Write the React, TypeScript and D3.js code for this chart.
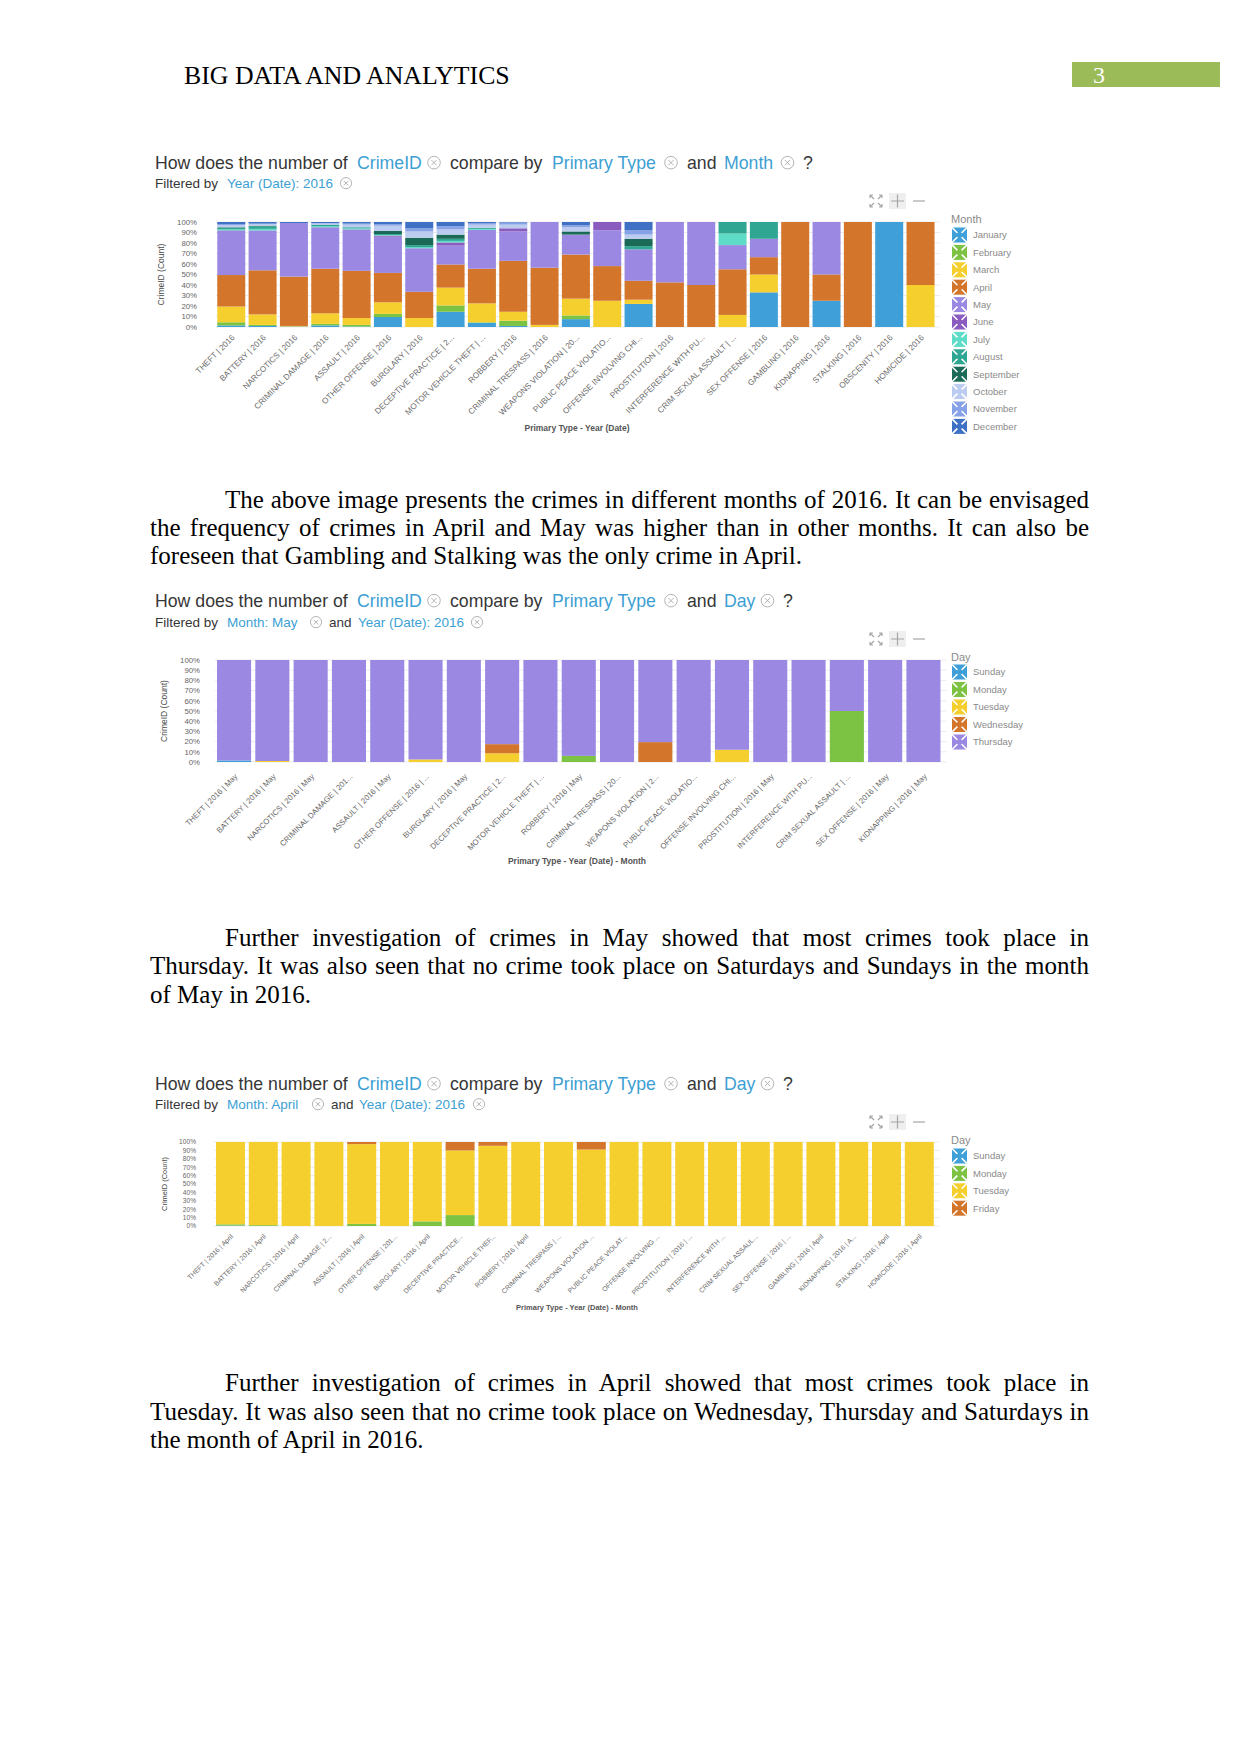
import React, { useEffect, useRef } from 'react';
import * as d3 from 'd3';

const SANS = "'Liberation Sans', Arial, Helvetica, sans-serif";
const SERIF = "'Liberation Serif', 'Times New Roman', serif";

// ---------- Chart 1 : months ----------
const monthNames = ['January', 'February', 'March', 'April', 'May', 'June', 'July', 'August', 'September', 'October', 'November', 'December'];
const monthColors = ['#3fa0d9', '#7cc243', '#f5cf2e', '#d3762b', '#9a88e2', '#8b5cc0', '#5fdcc8', '#2fa692', '#1b6a58', '#bccbf0', '#87a2e6', '#3e70c4'];
const chart1Categories = [
  'THEFT | 2016', 'BATTERY | 2016', 'NARCOTICS | 2016', 'CRIMINAL DAMAGE | 2016', 'ASSAULT | 2016',
  'OTHER OFFENSE | 2016', 'BURGLARY | 2016', 'DECEPTIVE PRACTICE | 2...', 'MOTOR VEHICLE THEFT | ...',
  'ROBBERY | 2016', 'CRIMINAL TRESPASS | 2016', 'WEAPONS VIOLATION | 20...', 'PUBLIC PEACE VIOLATIO...',
  'OFFENSE INVOLVING CHI...', 'PROSTITUTION | 2016', 'INTERFERENCE WITH PU...', 'CRIM SEXUAL ASSAULT | ...',
  'SEX OFFENSE | 2016', 'GAMBLING | 2016', 'KIDNAPPING | 2016', 'STALKING | 2016', 'OBSCENITY | 2016', 'HOMICIDE | 2016'];
const janValues = [1.5, 1, 0.5, 1.5, 0.5, 9.5, 0, 14.5, 4, 1, 0, 7.5, 0, 22, 0, 0, 0, 33, 0, 25, 0, 100, 0];
const febValues = [3, 1, 0, 1.5, 1.5, 3, 0, 6, 0.5, 5, 0, 3.5, 0, 0, 0, 0, 0, 0, 0, 0, 0, 0, 0];
const marValues = [15, 10, 0.5, 10, 6.5, 11, 8.5, 17, 18, 8.5, 2, 16, 25, 4, 0, 0, 11.5, 17, 0, 0, 0, 0, 40];
const aprValues = [30, 42, 47, 42.5, 45, 28, 25, 22, 33, 48.5, 54.5, 42, 33, 18, 42.5, 40, 43.5, 16.5, 100, 25, 100, 0, 60];
const mayValues = [42, 38, 51, 39.5, 39.5, 34.5, 41.5, 18, 37, 28, 43.5, 19, 34, 30, 57.5, 60, 23, 17.5, 0, 50, 0, 0, 0];
const junValues = [0.5, 0, 0, 0, 0, 1, 0, 3, 0, 3, 0, 0, 8, 0, 0, 0, 0, 0, 0, 0, 0, 0, 0];
const julValues = [1, 1.5, 0, 1, 1, 0.5, 1, 1.5, 1, 0, 0, 0, 0, 0, 0, 0, 11, 0, 0, 0, 0, 0, 0];
const augValues = [1.5, 2.5, 0, 1.5, 1, 1, 2, 2, 1, 0, 0, 0, 0, 3, 0, 0, 11, 16, 0, 0, 0, 0, 0];
const sepValues = [0.5, 0.5, 0, 0, 0, 3, 7, 4, 0, 0, 0, 3, 0, 7, 0, 0, 0, 0, 0, 0, 0, 0, 0];
const octValues = [2, 1.5, 0, 1, 2.5, 5, 6, 5, 3, 3.5, 0, 4, 0, 4, 0, 0, 0, 0, 0, 0, 0, 0, 0];
const novValues = [1, 0.5, 0, 0.5, 1, 1.5, 3, 3, 1.5, 2, 0, 2, 0, 4, 0, 0, 0, 0, 0, 0, 0, 0, 0];
const decValues = [2, 1.5, 1, 1, 1.5, 2, 6, 4, 1, 0.5, 0, 3, 0, 8, 0, 0, 0, 0, 0, 0, 0, 0, 0];

// ---------- Chart 2 : May by day ----------
const mayDayNames = ['Sunday', 'Monday', 'Tuesday', 'Wednesday', 'Thursday'];
const mayDayColors = ['#3fa0d9', '#7cc243', '#f5cf2e', '#d3762b', '#9a88e2'];
const chart2Categories = [
  'THEFT | 2016 | May', 'BATTERY | 2016 | May', 'NARCOTICS | 2016 | May', 'CRIMINAL DAMAGE | 201...',
  'ASSAULT | 2016 | May', 'OTHER OFFENSE | 2016 | ...', 'BURGLARY | 2016 | May', 'DECEPTIVE PRACTICE | 2...',
  'MOTOR VEHICLE THEFT | ...', 'ROBBERY | 2016 | May', 'CRIMINAL TRESPASS | 20...', 'WEAPONS VIOLATION | 2...',
  'PUBLIC PEACE VIOLATIO...', 'OFFENSE INVOLVING CHI...', 'PROSTITUTION | 2016 | May', 'INTERFERENCE WITH PU...',
  'CRIM SEXUAL ASSAULT | ...', 'SEX OFFENSE | 2016 | May', 'KIDNAPPING | 2016 | May'];
const maySunValues = [1.5, 0, 0, 0, 0, 0, 0, 0, 0, 0, 0, 0, 0, 0, 0, 0, 0, 0, 0];
const mayMonValues = [0, 0, 0, 0, 0, 0, 0, 0, 0, 6, 0, 0, 0, 0, 0, 0, 50, 0, 0];
const mayTueValues = [0, 1, 0, 0, 0, 2.5, 0, 8.5, 0, 0, 0, 0, 0, 12, 0, 0, 0, 0, 0];
const mayWedValues = [0, 0, 0, 0, 0, 0, 0, 9, 0, 0, 0, 19.5, 0, 0, 0, 0, 0, 0, 0];
const mayThuValues = [98.5, 99, 100, 100, 100, 97.5, 100, 82.5, 100, 94, 100, 80.5, 100, 88, 100, 100, 50, 100, 100];

// ---------- Chart 3 : April by day ----------
const aprDayNames = ['Sunday', 'Monday', 'Tuesday', 'Friday'];
const aprDayColors = ['#3fa0d9', '#7cc243', '#f5cf2e', '#d3762b'];
const chart3Categories = [
  'THEFT | 2016 | April', 'BATTERY | 2016 | April', 'NARCOTICS | 2016 | April', 'CRIMINAL DAMAGE | 2...',
  'ASSAULT | 2016 | April', 'OTHER OFFENSE | 201...', 'BURGLARY | 2016 | April', 'DECEPTIVE PRACTICE...',
  'MOTOR VEHICLE THEF...', 'ROBBERY | 2016 | April', 'CRIMINAL TRESPASS | ...', 'WEAPONS VIOLATION ...',
  'PUBLIC PEACE VIOLAT...', 'OFFENSE INVOLVING ...', 'PROSTITUTION | 2016 | ...', 'INTERFERENCE WITH ...',
  'CRIM SEXUAL ASSAUL...', 'SEX OFFENSE | 2016 | ...', 'GAMBLING | 2016 | April', 'KIDNAPPING | 2016 | A...',
  'STALKING | 2016 | April', 'HOMICIDE | 2016 | April'];
const aprSunValues = [0.5, 0, 0, 0, 0, 0, 0, 0, 0, 0, 0, 0, 0, 0, 0, 0, 0, 0, 0, 0, 0, 0];
const aprMonValues = [1.5, 1, 0, 0, 2.5, 0, 5.5, 13, 0, 0, 0, 0, 0, 0, 0, 0, 0, 0, 0, 0, 0, 0];
const aprTueValues = [98, 99, 100, 100, 95, 100, 94.5, 77, 95.5, 100, 100, 91, 100, 100, 100, 100, 100, 100, 100, 100, 100, 100];
const aprFriValues = [0, 0, 0, 0, 2.5, 0, 0, 10, 4.5, 0, 0, 9, 0, 0, 0, 0, 0, 0, 0, 0, 0, 0];

const yTicks = [0, 10, 20, 30, 40, 50, 60, 70, 80, 90, 100];

// text parts of the question header: d = dark text, b = blue field, i = remove icon
type Part = { t: string; k: 'd' | 'b' | 'i'; x: number };
type Cfg = {
  categories: string[]; series: string[]; colors: string[]; values: number[][];
  x0: number; x1: number; pad: number; top: number; bottom: number;
  titleY: number; subY: number; title: Part[]; sub: Part[];
  legendTitle: string; legendTitleY: number; legendY: number; legendStep: number; toolbarY: number;
  xTitle: string; xTitleY: number; xTitleFont: number; xLabelFont: number; labelDx: number; labelDy: number;
  yTickFont: number; yTickX: number; yTitleX: number; yTitleFont: number;
};

function RemoveIcon({ cx, cy, r }: { cx: number; cy: number; r: number }) {
  const a = r * 0.42;
  return (
    <g stroke="#ababab" fill="none" strokeWidth={0.9}>
      <circle cx={cx} cy={cy} r={r} />
      <path d={`M${cx - a},${cy - a} L${cx + a},${cy + a} M${cx + a},${cy - a} L${cx - a},${cy + a}`} />
    </g>
  );
}

function Parts({ parts, y, size, r }: { parts: Part[]; y: number; size: number; r: number }) {
  return (
    <g>
      {parts.map((p, i) =>
        p.k === 'i' ? (
          <RemoveIcon key={i} cx={p.x} cy={y - size * 0.36} r={r} />
        ) : (
          <text key={i} x={p.x} y={y} fontFamily={SANS} fontSize={size} fill={p.k === 'b' ? '#3d9fd3' : '#363636'}
            style={{ whiteSpace: 'pre' }}>{p.t}</text>
        )
      )}
    </g>
  );
}

function Toolbar({ y }: { y: number }) {
  return (
    <g stroke="#a5a5a5" strokeWidth={1.2} fill="none">
      <path d={`M870,${y - 6} l4,4 M882,${y - 6} l-4,4 M870,${y + 6} l4,-4 M882,${y + 6} l-4,-4`} />
      <path d={`M870,${y - 6} h3 M870,${y - 6} v3 M882,${y - 6} h-3 M882,${y - 6} v3 M870,${y + 6} h3 M870,${y + 6} v-3 M882,${y + 6} h-3 M882,${y + 6} v-3`} />
      <rect x={889} y={y - 8} width={17} height={16} fill="#efefef" stroke="none" />
      <path d={`M891,${y} h13 M897.5,${y - 6.5} v13`} />
      <path d={`M913,${y} h12`} />
    </g>
  );
}

function LegendIcon({ x, y, color }: { x: number; y: number; color: string }) {
  const s = 15;
  return (
    <g>
      <rect x={x} y={y - s / 2} width={s} height={s} fill={color} />
      <path d={`M${x},${y - s / 2} L${x + s},${y + s / 2} M${x + s},${y - s / 2} L${x},${y + s / 2}`} stroke="#ffffff" strokeWidth={1.6} />
      <rect x={x + 4.5} y={y - 3} width={6} height={6} fill={color} transform={`rotate(45 ${x + 7.5} ${y})`} />
    </g>
  );
}

function StackedChart({ c }: { c: Cfg }) {
  const x = d3.scaleBand<string>().domain(c.categories).range([c.x0, c.x1]).paddingInner(c.pad).paddingOuter(c.pad / 2);
  const y = d3.scaleLinear().domain([0, 100]).range([c.bottom, c.top]);
  const rows = c.categories.map((cat, i) => {
    const r: any = { cat };
    c.series.forEach((s, j) => { r[s] = c.values[j][i]; });
    return r;
  });
  const stacked = d3.stack<any>().keys(c.series)(rows);
  const gridEnd = c.x1 + 4;
  return (
    <g>
      <Parts parts={c.title} y={c.titleY} size={17.7} r={6.3} />
      <Parts parts={c.sub} y={c.subY} size={13.5} r={5.6} />
      <Toolbar y={c.toolbarY} />
      {yTicks.map(t => (
        <g key={t}>
          <line x1={c.x0} x2={gridEnd} y1={y(t)} y2={y(t)} stroke="#ececec" strokeWidth={1} />
          <text x={c.yTickX} y={y(t)} dy="0.35em" textAnchor="end" fontFamily={SANS} fontSize={c.yTickFont} fill="#666">{t}%</text>
        </g>
      ))}
      <text transform={`translate(${c.yTitleX},${(c.top + c.bottom) / 2}) rotate(-90)`} textAnchor="middle" dy="0.35em"
        fontFamily={SANS} fontSize={c.yTitleFont} fill="#4a4a4a">CrimeID (Count)</text>
      {stacked.map((layer, j) => (
        <g key={c.series[j]} fill={c.colors[j]}>
          {layer.map((d, i) => {
            const h = y(d[0]) - y(d[1]);
            if (h <= 0) return null;
            return <rect key={i} x={x(c.categories[i])} width={x.bandwidth()} y={y(d[1])} height={h} />;
          })}
        </g>
      ))}
      {c.categories.map(cat => {
        const cx = (x(cat) as number) + x.bandwidth() / 2 + c.labelDx;
        const cy = c.bottom + c.labelDy;
        return (
          <text key={cat} transform={`translate(${cx},${cy}) rotate(-45)`} textAnchor="end"
            fontFamily={SANS} fontSize={c.xLabelFont} fill="#6a6a6a">{cat}</text>
        );
      })}
      <text x={577} y={c.xTitleY} textAnchor="middle" fontFamily={SANS} fontSize={c.xTitleFont} fontWeight={600} fill="#555">{c.xTitle}</text>
      <text x={951} y={c.legendTitleY} dy="0.35em" fontFamily={SANS} fontSize={11} fill="#8a8a8a">{c.legendTitle}</text>
      {c.series.map((s, j) => {
        const ly = c.legendY + j * c.legendStep;
        return (
          <g key={s}>
            <LegendIcon x={952} y={ly} color={c.colors[j]} />
            <text x={973} y={ly} dy="0.35em" fontFamily={SANS} fontSize={9.5} fill="#8a8a8a">{s}</text>
          </g>
        );
      })}
    </g>
  );
}

const titleMonth: Part[] = [
  { t: 'How does the number of', k: 'd', x: 155 }, { t: 'CrimeID', k: 'b', x: 357 }, { t: '', k: 'i', x: 434 },
  { t: 'compare by', k: 'd', x: 450 }, { t: 'Primary Type', k: 'b', x: 552 }, { t: '', k: 'i', x: 671 },
  { t: 'and', k: 'd', x: 687 }, { t: 'Month', k: 'b', x: 724 }, { t: '', k: 'i', x: 787.5 }, { t: '?', k: 'd', x: 803 }];
const titleDay: Part[] = [
  { t: 'How does the number of', k: 'd', x: 155 }, { t: 'CrimeID', k: 'b', x: 357 }, { t: '', k: 'i', x: 434 },
  { t: 'compare by', k: 'd', x: 450 }, { t: 'Primary Type', k: 'b', x: 552 }, { t: '', k: 'i', x: 671 },
  { t: 'and', k: 'd', x: 687 }, { t: 'Day', k: 'b', x: 724 }, { t: '', k: 'i', x: 767.5 }, { t: '?', k: 'd', x: 783 }];

const chart1: Cfg = {
  categories: chart1Categories, series: monthNames, colors: monthColors,
  values: [janValues, febValues, marValues, aprValues, mayValues, junValues, julValues, augValues, sepValues, octValues, novValues, decValues],
  x0: 215.6, x1: 936.2, pad: 0.106, top: 222, bottom: 327,
  titleY: 169, subY: 188, title: titleMonth,
  sub: [{ t: 'Filtered by', k: 'd', x: 155 }, { t: 'Year (Date): 2016', k: 'b', x: 227 }, { t: '', k: 'i', x: 346 }],
  legendTitle: 'Month', legendTitleY: 219, legendY: 235, legendStep: 17.4, toolbarY: 201,
  xTitle: 'Primary Type - Year (Date)', xTitleY: 431, xTitleFont: 8.5, xLabelFont: 8.2, labelDx: 4, labelDy: 11,
  yTickFont: 7.8, yTickX: 197, yTitleX: 161, yTitleFont: 8.5,
};

const chart2: Cfg = {
  categories: chart2Categories, series: mayDayNames, colors: mayDayColors,
  values: [maySunValues, mayMonValues, mayTueValues, mayWedValues, mayThuValues],
  x0: 214.9, x1: 942.6, pad: 0.11, top: 660, bottom: 762,
  titleY: 607, subY: 627, title: titleDay,
  sub: [{ t: 'Filtered by', k: 'd', x: 155 }, { t: 'Month: May', k: 'b', x: 227 }, { t: '', k: 'i', x: 316 },
    { t: 'and', k: 'd', x: 329 }, { t: 'Year (Date): 2016', k: 'b', x: 358 }, { t: '', k: 'i', x: 477 }],
  legendTitle: 'Day', legendTitleY: 657, legendY: 672, legendStep: 17.5, toolbarY: 639,
  xTitle: 'Primary Type - Year (Date) - Month', xTitleY: 864, xTitleFont: 8.5, xLabelFont: 7.8, labelDx: 4, labelDy: 15,
  yTickFont: 7.8, yTickX: 200, yTitleX: 164, yTitleFont: 8.5,
};

const chart3: Cfg = {
  categories: chart3Categories, series: aprDayNames, colors: aprDayColors,
  values: [aprSunValues, aprMonValues, aprTueValues, aprFriValues],
  x0: 214.1, x1: 935.7, pad: 0.116, top: 1142, bottom: 1226,
  titleY: 1090, subY: 1109, title: titleDay,
  sub: [{ t: 'Filtered by', k: 'd', x: 155 }, { t: 'Month: April', k: 'b', x: 227 }, { t: '', k: 'i', x: 318 },
    { t: 'and', k: 'd', x: 331 }, { t: 'Year (Date): 2016', k: 'b', x: 359 }, { t: '', k: 'i', x: 479 }],
  legendTitle: 'Day', legendTitleY: 1140, legendY: 1156, legendStep: 17.4, toolbarY: 1122,
  xTitle: 'Primary Type - Year (Date) - Month', xTitleY: 1310, xTitleFont: 7.5, xLabelFont: 6.8, labelDx: 3, labelDy: 11,
  yTickFont: 6.6, yTickX: 196, yTitleX: 164, yTitleFont: 7.4,
};

const paragraphLines = [
  { t: 'The above image presents the crimes in different months of 2016. It can be envisaged', x: 225, y: 508, j: true },
  { t: 'the frequency of crimes in April and May was higher than in other months. It can also be', x: 150, y: 536, j: true },
  { t: 'foreseen that Gambling and Stalking was the only crime in April.', x: 150, y: 564, j: false },
  { t: 'Further investigation of crimes in May showed that most crimes took place in', x: 225, y: 946, j: true },
  { t: 'Thursday. It was also seen that no crime took place on Saturdays and Sundays in the month', x: 150, y: 974, j: true },
  { t: 'of May in 2016.', x: 150, y: 1003, j: false },
  { t: 'Further investigation of crimes in April showed that most crimes took place in', x: 225, y: 1391, j: true },
  { t: 'Tuesday. It was also seen that no crime took place on Wednesday, Thursday and Saturdays in', x: 150, y: 1420, j: true },
  { t: 'the month of April in 2016.', x: 150, y: 1448, j: false },
];
const RIGHT_EDGE = 1089;

export default function App() {
  const ref = useRef<SVGSVGElement>(null);
  useEffect(() => {
    const justify = () => {
      const svg = ref.current;
      if (!svg) return;
      svg.querySelectorAll('text.justify').forEach((el: any) => {
        el.style.wordSpacing = '0px';
        const target = RIGHT_EDGE - Number(el.getAttribute('x'));
        const len = el.getComputedTextLength();
        const spaces = (el.textContent.match(/ /g) || []).length;
        if (spaces > 0) el.style.wordSpacing = `${(target - len) / spaces}px`;
      });
    };
    justify();
    if ((document as any).fonts && (document as any).fonts.ready) (document as any).fonts.ready.then(justify);
  }, []);

  return (
    <svg ref={ref} width={1241} height={1754} style={{ position: 'absolute', left: 0, top: 0, background: '#fff' }}>
      <rect width={1241} height={1754} fill="#ffffff" />
      <text x={184} y={84} fontFamily={SERIF} fontSize={25.8} fill="#000">BIG DATA AND ANALYTICS</text>
      <rect x={1072} y={62} width={148} height={25} fill="#9bbb59" />
      <text x={1093} y={83} fontFamily={SERIF} fontSize={24} fill="#ffffff">3</text>

      <StackedChart c={chart1} />
      <StackedChart c={chart2} />
      <StackedChart c={chart3} />

      {paragraphLines.map((l, i) => (
        <text key={i} className={l.j ? 'justify' : undefined} x={l.x} y={l.y} fontFamily={SERIF} fontSize={25} fill="#000" style={{ whiteSpace: 'pre' }}>{l.t}</text>
      ))}
    </svg>
  );
}
